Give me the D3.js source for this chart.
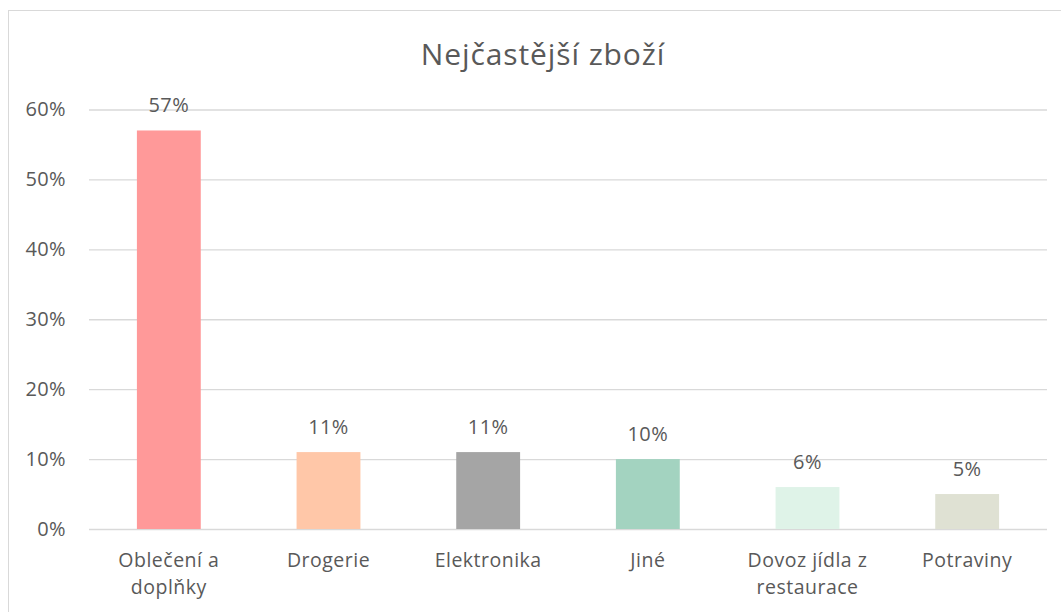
<!DOCTYPE html>
<html><head><meta charset="utf-8">
<script src="https://cdn.jsdelivr.net/npm/d3@7"></script>
<style>
html,body{margin:0;padding:0;background:#fff;}
svg{display:block;font-family:"Open Sans",Lato,sans-serif;}
</style></head>
<body>
<svg id="chart" width="1061" height="612"></svg>
<script>
const title = "Nejčastější zboží";
const categories = ["Oblečení a doplňky","Drogerie","Elektronika","Jiné","Dovoz jídla z restaurace","Potraviny"];
const values = [0.57,0.11,0.11,0.10,0.06,0.05];
const colors = ["#FF9999","#FFC7A8","#A5A5A5","#A3D3C0","#DFF3E8","#DFE1D3"];
const yTicks = [0,0.1,0.2,0.3,0.4,0.5,0.6];

const svg = d3.select("#chart");
const W = 1061, H = 612;
const m = {left:89, right:14, top:109.5, bottom:83};
const x = d3.scaleBand().domain(categories).range([m.left, W-m.right]).paddingInner(0.6).paddingOuter(0.3);
const y = d3.scaleLinear().domain([0,0.6]).range([H-m.bottom, m.top]);
const txt = "#595959";
const FONT = "Open Sans";

// chart border
svg.append("rect").attr("x",8.5).attr("y",10.5).attr("width",1200).attr("height",800)
  .attr("fill","#fff").attr("stroke","#D9D9D9").attr("stroke-width",1);

// title
svg.append("text").attr("x",543).attr("y",65).attr("text-anchor","middle")
  .attr("font-size",30).attr("letter-spacing",0.9).attr("fill",txt).text(title);

// gridlines + y axis
const yAxis = d3.axisLeft(y).tickValues(yTicks).tickFormat(d3.format(".0%"))
  .tickSize(-(W-m.left-m.right)).tickPadding(23);
const gy = svg.append("g").attr("transform",`translate(${m.left},0)`).call(yAxis);
gy.select(".domain").remove();
gy.selectAll(".tick line").attr("stroke","#D9D9D9").attr("stroke-width",1.3);
gy.selectAll(".tick text").attr("fill",txt).attr("font-size",20).attr("letter-spacing",0.4).attr("font-family",FONT);

// bars
svg.selectAll(".bar").data(categories).enter().append("rect")
  .attr("x",d=>x(d)).attr("width",x.bandwidth())
  .attr("y",(d,i)=>y(values[i])).attr("height",(d,i)=>y(0)-y(values[i]))
  .attr("fill",(d,i)=>colors[i]);

// data labels
svg.selectAll(".lbl").data(categories).enter().append("text")
  .attr("x",d=>x(d)+x.bandwidth()/2).attr("y",(d,i)=>y(values[i])-18)
  .attr("text-anchor","middle").attr("font-size",20).attr("letter-spacing",0.4).attr("fill",txt)
  .text((d,i)=>d3.format(".0%")(values[i]));

// x axis
const xAxis = d3.axisBottom(x).tickSize(0).tickPadding(0);
const gx = svg.append("g").attr("transform",`translate(0,${y(0)})`).call(xAxis);
gx.select(".domain").remove();
gx.selectAll(".tick text").attr("fill",txt).attr("font-size",19.5).attr("letter-spacing",0.5).attr("font-family",FONT)
  .attr("y",38).attr("dy",0)
  .each(function(d){
    const t = d3.select(this);
    const words = d.split(" ");
    t.text(null);
    let line = [], lines = [];
    const maxW = 150;
    const tmp = t.append("tspan");
    words.forEach(w=>{
      line.push(w);
      tmp.text(line.join(" "));
      if (tmp.node().getComputedTextLength() > maxW && line.length>1){
        line.pop(); lines.push(line.join(" ")); line=[w];
      }
    });
    lines.push(line.join(" "));
    tmp.remove();
    lines.forEach((l,i)=>t.append("tspan").attr("x",0).attr("y",38+i*27).text(l));
  });
</script>
</body></html>
